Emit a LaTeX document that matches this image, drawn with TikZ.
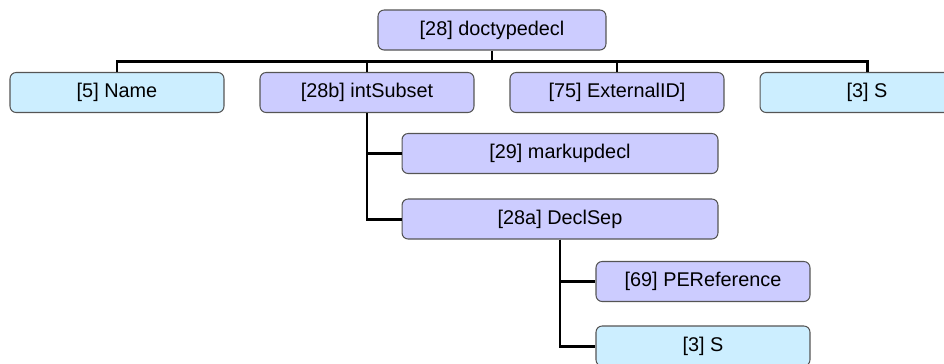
\documentclass[tikz,border=0pt]{standalone}
\usepackage{fontspec}
\setmainfont{Liberation Sans}
\definecolor{rulefill}{HTML}{CCCCFF}
\definecolor{termfill}{HTML}{CCEEFF}
\definecolor{boxline}{HTML}{555555}

\begin{document}
\begin{tikzpicture}[x=0.02cm,y=-0.02cm,
  rule/.style={draw=boxline,line width=0.6pt,rounded corners=3.5pt,fill=rulefill,
    minimum width=4.28cm,minimum height=0.8cm,font=\fontsize{11.3}{13}\selectfont},
  term/.style={rule,fill=termfill},
  link/.style={line width=1.7pt,black}]
  \clip (0,0) rectangle (944,363);
  \node[rule,minimum width=4.56cm] (doctype) at (492,30) {[28] doctypedecl};
  \node[term] (name) at (117,92.5) {[5] Name};
  \node[rule] (intsubset) at (367,92.5) {[28b] intSubset};
  \node[rule] (extid) at (617,92.5) {[75] ExternalID]};
  \node[term] (s1) at (867,92.5) {[3] S};
  \node[rule,minimum width=6.32cm] (markup) at (560,153.5) {[29] markupdecl};
  \node[rule,minimum width=6.32cm] (declsep) at (560,219) {[28a] DeclSep};
  \node[rule] (peref) at (703,281.5) {[69] PEReference};
  \node[term] (s2) at (703,346) {[3] S};
  \coordinate (bar) at (492,61);
  \draw[link] (doctype.south) -- (bar);
  \foreach \kid in {name,intsubset,extid,s1}
    \draw[link] (bar) -| (\kid.north);
  \draw[link] (intsubset.south) |- (markup.west);
  \draw[link] (intsubset.south) |- (declsep.west);
  \draw[link] (declsep.south) |- (peref.west);
  \draw[link] (declsep.south) |- (s2.west);
\end{tikzpicture}
\end{document}
